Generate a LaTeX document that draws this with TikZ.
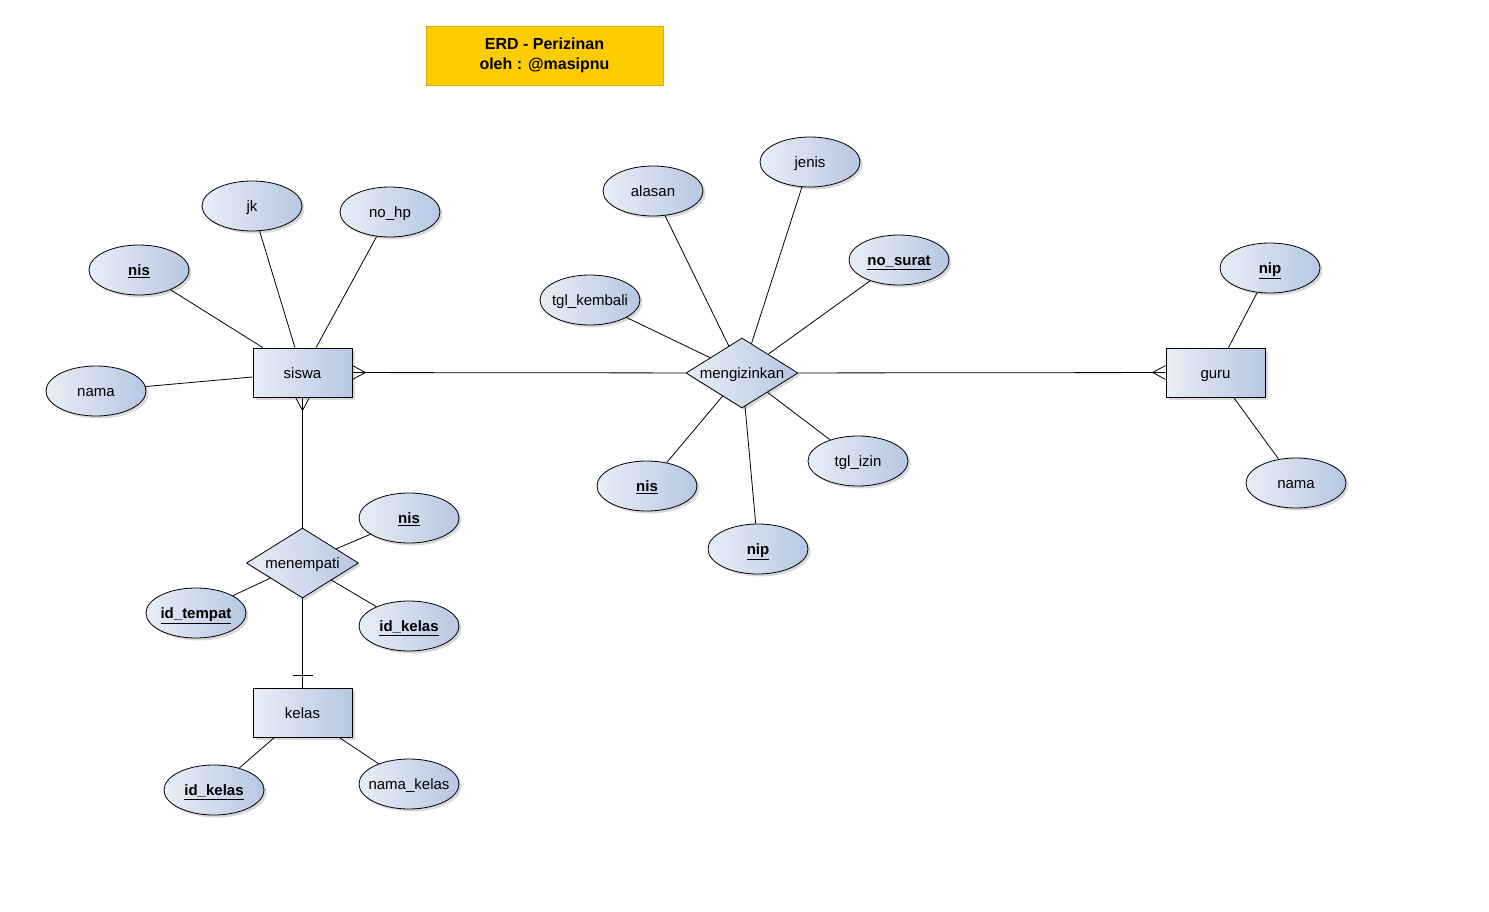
\documentclass[tikz,border=0pt]{standalone}
\usepackage{fontspec}
\setmainfont{Liberation Sans}
\usetikzlibrary{shapes.geometric,shadows}
\definecolor{erdkiri}{HTML}{E9EEF7}
\definecolor{erdkanan}{HTML}{B6C7E2}
\definecolor{erdjudul}{HTML}{FFCC00}
\definecolor{erdjudulgaris}{HTML}{D6AC00}

\begin{document}
\begin{tikzpicture}[x=1pt,y=-1pt,line width=0.8pt,
	font=\fontsize{15}{18}\selectfont,
	bayang/.style={drop shadow={shadow xshift=2.5pt,shadow yshift=-2.5pt,opacity=0.3}},
	tulisan/.style={text height=12pt,text depth=1pt},
	entitas/.style={rectangle,draw,left color=erdkiri,right color=erdkanan,minimum width=99pt,minimum height=49pt,tulisan,bayang},
	relasi/.style={diamond,draw,aspect=1.6,inner sep=0pt,minimum width=112pt,minimum height=70pt,left color=erdkiri,right color=erdkanan,tulisan,bayang},
	atribut/.style={ellipse,draw,left color=erdkiri,right color=erdkanan,inner ysep=0pt,inner xsep=-6pt,minimum width=100pt,minimum height=50pt,tulisan,bayang},
	kunci/.style={atribut,font=\fontsize{15}{18}\selectfont\bfseries}]
		\useasboundingbox (0,0) rectangle (1489,912);
		\node[draw=erdjudulgaris,fill=erdjudul,minimum width=237pt,minimum height=59pt,align=center,font=\fontsize{16}{20}\selectfont\bfseries] (judul) at (544.5,55.5) {ERD - Perizinan\\oleh : @masipnu};

		\node[entitas] (siswa) at (302.5,372.5) {siswa};
		\node[entitas] (guru) at (1215.5,372.5) {guru};
		\node[entitas] (kelas) at (302.5,713) {kelas};
		\node[relasi] (mengizinkan) at (742,373) {mengizinkan};
		\node[relasi] (menempati) at (302.5,563) {menempati};

		\node[kunci] (siswaNis) at (139,270) {\underline{nis}};
		\node[atribut] (siswaJk) at (252,206) {jk};
		\node[atribut] (siswaNoHp) at (390,212) {no\_hp};
		\node[atribut] (siswaNama) at (96,391) {nama};

		\node[atribut] (izinAlasan) at (653,191) {alasan};
		\node[atribut] (izinJenis) at (810,162) {jenis};
		\node[kunci] (izinNoSurat) at (899,260) {\underline{no\_surat}};
		\node[atribut] (izinTglKembali) at (590,300) {tgl\_kembali};
		\node[atribut] (izinTglIzin) at (858,461) {tgl\_izin};
		\node[kunci] (izinNis) at (647,486) {\underline{nis}};
		\node[kunci] (izinNip) at (758,549) {\underline{nip}};

		\node[kunci] (guruNip) at (1270,268) {\underline{nip}};
		\node[atribut] (guruNama) at (1296,483) {nama};

		\node[kunci] (tempatNis) at (409,518) {\underline{nis}};
		\node[kunci] (tempatIdTempat) at (196,613) {\underline{id\_tempat}};
		\node[kunci] (tempatIdKelas) at (409,626) {\underline{id\_kelas}};

		\node[kunci] (kelasIdKelas) at (214,790) {\underline{id\_kelas}};
		\node[atribut] (kelasNamaKelas) at (409,784) {nama\_kelas};

		\draw (siswaNis) -- (siswa);
		\draw (siswaJk) -- (siswa);
		\draw (siswaNoHp) -- (siswa);
		\draw (siswaNama) -- (siswa);
		\draw (izinAlasan) -- (mengizinkan);
		\draw (izinJenis) -- (mengizinkan);
		\draw (izinNoSurat) -- (mengizinkan);
		\draw (izinTglKembali) -- (mengizinkan);
		\draw (izinTglIzin) -- (mengizinkan);
		\draw (izinNis) -- (mengizinkan);
		\draw (izinNip) -- (mengizinkan);
		\draw (guruNip) -- (guru);
		\draw (guruNama) -- (guru);
		\draw (tempatNis) -- (menempati);
		\draw (tempatIdTempat) -- (menempati);
		\draw (tempatIdKelas) -- (menempati);
		\draw (kelasIdKelas) -- (kelas);
		\draw (kelasNamaKelas) -- (kelas);

		\draw (siswa) -- (mengizinkan);
		\draw (mengizinkan) -- (guru);
		\draw (siswa) -- (menempati);
		\draw (menempati) -- (kelas);

		\draw ([yshift=7pt]siswa.east) -- ([xshift=13pt]siswa.east) -- ([yshift=-7pt]siswa.east);
		\draw ([xshift=-7pt]siswa.south) -- ([yshift=-13pt]siswa.south) -- ([xshift=7pt]siswa.south);
		\draw ([yshift=7pt]guru.west) -- ([xshift=-13pt]guru.west) -- ([yshift=-7pt]guru.west);
		\draw ([xshift=-10pt,yshift=13pt]kelas.north) -- ([xshift=10pt,yshift=13pt]kelas.north);
\end{tikzpicture}
\end{document}
